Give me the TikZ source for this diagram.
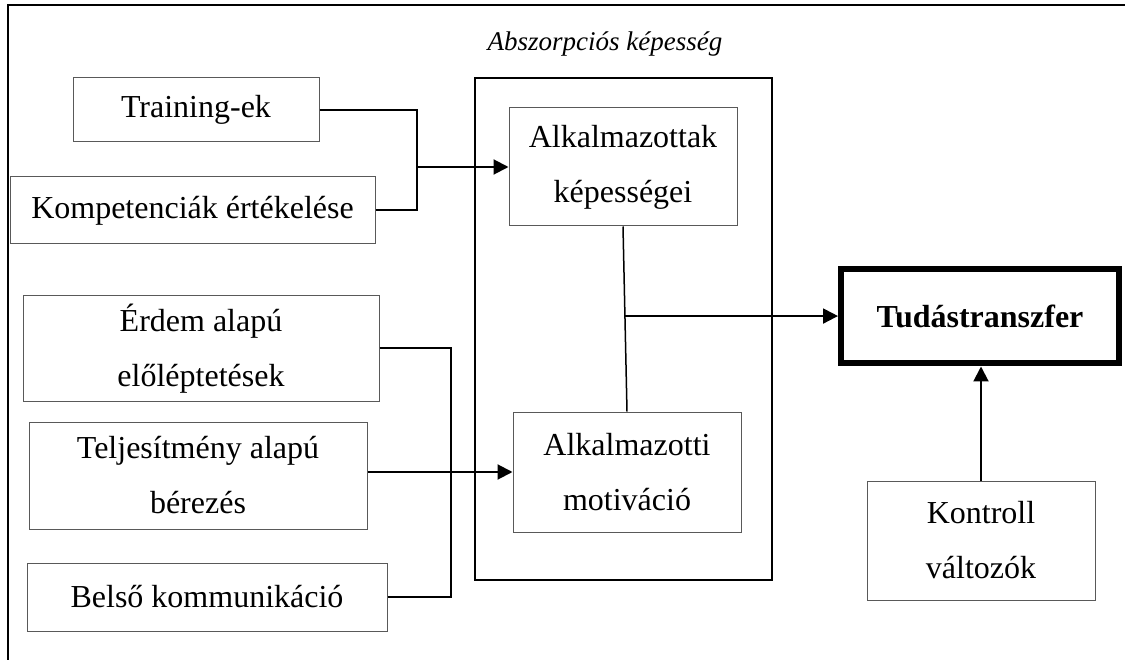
\documentclass[tikz,border=0pt]{standalone}
\usepackage{fontspec}
\setmainfont{Liberation Serif}
\usetikzlibrary{arrows.meta,calc}
\begin{document}
\begin{tikzpicture}[x=1pt,y=-1pt,
  box/.style={draw=black!65, line width=1pt, align=center, inner sep=0pt,
    font=\fontsize{32}{55}\selectfont},
  conn/.style={draw=black, line width=2pt},
  arr/.style={conn, -{Triangle[length=15pt,width=15pt]}},
  frame/.style={draw=black, line width=2pt}]
\useasboundingbox (0,0) rectangle (1125,660);
% outer frame (top and left only)
\coordinate (ftl) at (8,5);
\coordinate (ftr) at (1125,5);
\coordinate (fbl) at (8,660);
\draw[frame] (ftr) -- (ftl) -- (fbl);
% title
\node[font=\fontsize{27}{32}\selectfont\itshape] (title) at (605,44) {Abszorpciós képesség};
% container
\node[draw=black, line width=1.2pt, minimum width=297pt, minimum height=502pt, inner sep=0pt] (big) at (623.5,329) {};
% left boxes
\node[box, minimum width=246pt, minimum height=64pt] (train) at (196,110) {Training-ek};
\node[box, minimum width=365pt, minimum height=67pt] (komp) at (192.5,210.5) {Kompetenciák értékelése};
\node[box, minimum width=356pt, minimum height=105pt] (erdem) at (201,348.5) {Érdem alapú\\előléptetések};
\node[box, minimum width=338pt, minimum height=107pt] (telj) at (198,475.5) {Teljesítmény alapú\\bérezés};
\node[box, minimum width=360pt, minimum height=68pt] (belso) at (207,597) {Belső kommunikáció};
% inner boxes
\node[box, minimum width=228pt, minimum height=118pt] (kep) at (623,167) {Alkalmazottak\\képességei};
\node[box, minimum width=228pt, minimum height=120pt] (mot) at (627,472) {Alkalmazotti\\motiváció};
% right boxes
\node[draw=black, line width=6pt, minimum width=278pt, minimum height=94pt, inner sep=0pt,
  font=\fontsize{32}{55}\selectfont\bfseries] (tudas) at (980,316.5) {Tudástranszfer};
\node[box, minimum width=228pt, minimum height=119pt] (kontroll) at (981,540.5) {Kontroll\\változók};
% junctions
\coordinate (j1) at (417,167);
\coordinate (j2) at (451,473);
\coordinate (jt) at ($(kep.south)!0.484!(mot.north)$);
% connectors
\draw[conn] (train.east) -| (j1);
\draw[conn] (komp.east) -| (j1);
\draw[arr] (j1) -- (kep.west);
\draw[conn] (erdem.east) -| (j2);
\draw[conn] (belso.east) -| (j2);
\draw[arr] (telj.east |- mot.west) -- (mot.west);
\draw[draw=black, line width=1.5pt] (kep.south) -- (mot.north);
\draw[arr] (jt) -- (jt -| tudas.west);
\draw[arr] (kontroll.north) -- (kontroll.north |- tudas.south);
\end{tikzpicture}
\end{document}
